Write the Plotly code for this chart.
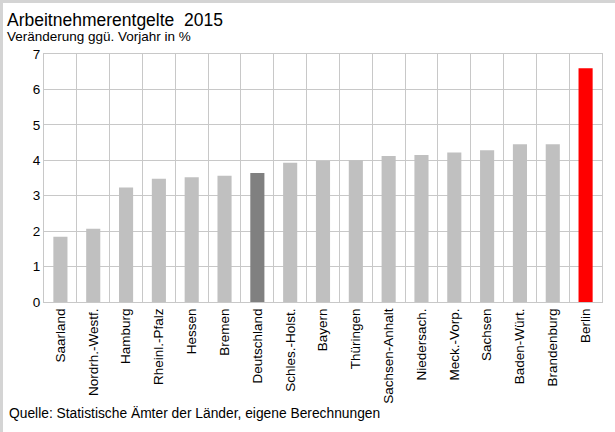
import plotly.graph_objects as go

categories = ["Saarland", "Nordrh.-Westf.", "Hamburg", "Rheinl.-Pfalz", "Hessen", "Bremen",
              "Deutschland", "Schles.-Holst.", "Bayern", "Thüringen", "Sachsen-Anhalt",
              "Niedersach.", "Meck.-Vorp.", "Sachsen", "Baden-Würt.", "Brandenburg", "Berlin"]
values = [1.84, 2.07, 3.23, 3.48, 3.52, 3.56, 3.64, 3.93, 3.98, 4.0, 4.12, 4.15, 4.22, 4.28, 4.45, 4.45, 6.6]
bar_colors = ["#C0C0C0"] * 6 + ["#808080"] + ["#C0C0C0"] * 9 + ["#FF0000"]
y_ticks = [0, 1, 2, 3, 4, 5, 6, 7]

W, H = 615, 432
L, R, T, B = 44, 13, 54, 130
pw = W - L - R
ph = H - T - B

def px_x(p):
    return (p - L) / pw

def px_y(p):
    return (H - B - p) / ph

fig = go.Figure(go.Bar(x=categories, y=values, marker=dict(color=bar_colors, line=dict(width=0)),
                       width=0.43, hoverinfo="x+y"))

font = "Liberation Sans, Arial, sans-serif"
fig.update_layout(
    width=W, height=H,
    margin=dict(l=L, r=R, t=T, b=B, autoexpand=False),
    paper_bgcolor="white", plot_bgcolor="white",
    font=dict(family=font, size=13.5, color="#000000"),
    showlegend=False,
    xaxis=dict(type="category", tickson="boundaries", showgrid=True, gridcolor="#C8C8C8",
               gridwidth=1, tickangle=-90, ticks="", showline=True, linecolor="#C8C8C8",
               mirror=True, automargin=False, tickfont=dict(size=13.5, family=font)),
    yaxis=dict(range=[0, 7], tickvals=y_ticks, showgrid=True, gridcolor="#C8C8C8", gridwidth=1,
               showline=True, linecolor="#C8C8C8", mirror=True, ticks="", zeroline=False,
               automargin=False, tickfont=dict(size=13.5, family=font)),
    annotations=[
        dict(text="Arbeitnehmerentgelte  2015", xref="paper", yref="paper", x=px_x(5), y=px_y(20),
             xanchor="left", yanchor="middle", showarrow=False, font=dict(size=17.5, family=font)),
        dict(text="Veränderung ggü. Vorjahr in %", xref="paper", yref="paper", x=px_x(5), y=px_y(37),
             xanchor="left", yanchor="middle", showarrow=False, font=dict(size=13.5, family=font)),
        dict(text="Quelle: Statistische Ämter der Länder, eigene Berechnungen", xref="paper", yref="paper",
             x=px_x(7), y=px_y(413), xanchor="left", yanchor="middle", showarrow=False,
             font=dict(size=13.8, family=font)),
    ],
    shapes=[
        dict(type="line", xref="paper", yref="paper", x0=px_x(1.5), x1=px_x(1.5), y0=px_y(0), y1=px_y(H),
             line=dict(color="#D4D4D4", width=3)),
        dict(type="line", xref="paper", yref="paper", x0=px_x(0), x1=px_x(W), y0=px_y(1.5), y1=px_y(1.5),
             line=dict(color="#D4D4D4", width=3)),
    ],
)

fig.write_html("out.html", config={"displayModeBar": False},
               post_script="document.body.style.margin='0';document.body.style.overflow='hidden';")
